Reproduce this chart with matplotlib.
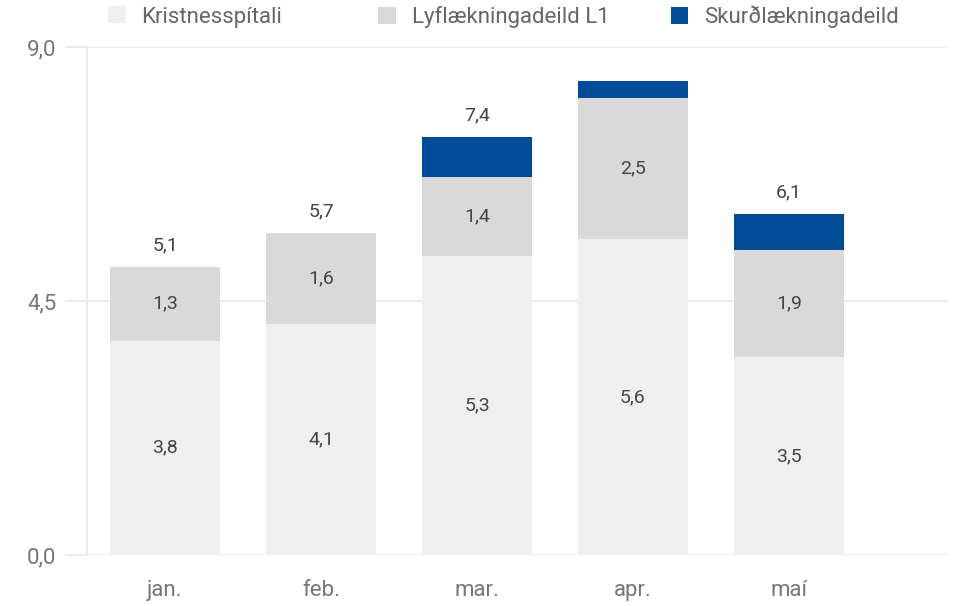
import matplotlib.pyplot as plt
import numpy as np

# data
months = ['jan.', 'feb.', 'mar.', 'apr.', 'maí']
kristnes = [3.8, 4.1, 5.3, 5.6, 3.5]
lyf = [1.3, 1.6, 1.4, 2.5, 1.9]
skurd = [0.0, 0.0, 0.7, 0.3, 0.65]
total_labels = ['5,1', '5,7', '7,4', '', '6,1']
series_names = ['Kristnesspítali', 'Lyflækningadeild L1', 'Skurðlækningadeild']

plt.rcParams['font.family'] = ['Roboto', 'DejaVu Sans']

fig = plt.figure(figsize=(9.58, 6.06), dpi=100)
ax = fig.add_axes([0.0908, 0.0842, 0.8988, 0.8382])

x = np.arange(len(months))
colors = ['#efefef', '#d9d9d9', '#004b97']
w = 0.7
b1 = ax.bar(x, kristnes, w, color=colors[0], label=series_names[0], zorder=3)
b2 = ax.bar(x, lyf, w, bottom=kristnes, color=colors[1], label=series_names[1], zorder=3)
bottom2 = np.array(kristnes) + np.array(lyf)
b3 = ax.bar(x, skurd, w, bottom=bottom2, color=colors[2], label=series_names[2], zorder=3)

fmt = lambda v: f'{v:.1f}'.replace('.', ',')
for i in range(len(months)):
    ax.text(x[i], kristnes[i] / 2, fmt(kristnes[i]), ha='center', va='center',
            fontsize=14, color='#444444', zorder=4)
    ax.text(x[i], kristnes[i] + lyf[i] / 2, fmt(lyf[i]), ha='center', va='center',
            fontsize=14, color='#444444', zorder=4)
    top = bottom2[i] + skurd[i]
    if total_labels[i]:
        ax.annotate(total_labels[i], (x[i], top), xytext=(0, 9), textcoords='offset points',
                    ha='center', va='bottom', fontsize=14, color='#444444')

ax.set_xlim(-0.5, 5.02)
ax.set_ylim(0, 9)
ax.set_yticks([0, 4.5, 9])
ax.set_yticklabels(['0,0', '4,5', '9,0'])
ax.set_xticks(x)
ax.set_xticklabels(months)
ax.grid(axis='y', color='#ebebeb', linewidth=1.5, zorder=0)
ax.tick_params(axis='y', length=16, color='#ebebeb', width=1.5, labelsize=16, labelcolor='#777777', pad=6)
ax.tick_params(axis='x', length=0, labelsize=16, labelcolor='#777777', pad=18)
for s in ['top', 'right', 'bottom']:
    ax.spines[s].set_visible(False)
ax.spines['left'].set_color('#ebebeb')
ax.spines['left'].set_linewidth(1.5)

# legend entries placed one by one
leg_x = [0.113, 0.395, 0.700]
for h, lx in zip([b1, b2, b3], leg_x):
    fig.legend(handles=[h], loc='center left', bbox_to_anchor=(lx, 0.972), frameon=False,
               fontsize=16, labelcolor='#666666', handlelength=0.8, handleheight=0.8,
               handletextpad=0.7, borderpad=0, borderaxespad=0)

plt.savefig('out.png', dpi=100)
